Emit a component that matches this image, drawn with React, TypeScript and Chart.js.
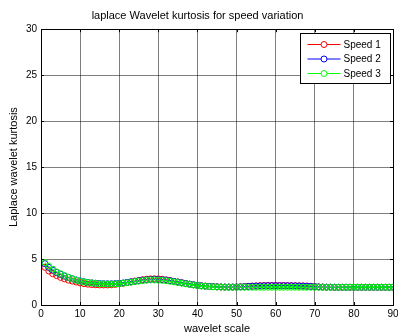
import React, { useEffect, useRef } from "react";
import { Chart, registerables } from "chart.js";

Chart.register(...registerables);

const scales: number[] = [
  1, 2, 3, 4, 5, 6, 7, 8, 9, 10, 11, 12, 13, 14, 15, 16, 17, 18, 19, 20,
  21, 22, 23, 24, 25, 26, 27, 28, 29, 30, 31, 32, 33, 34, 35, 36, 37, 38, 39, 40,
  41, 42, 43, 44, 45, 46, 47, 48, 49, 50, 51, 52, 53, 54, 55, 56, 57, 58, 59, 60,
  61, 62, 63, 64, 65, 66, 67, 68, 69, 70, 71, 72, 73, 74, 75, 76, 77, 78, 79, 80,
  81, 82, 83, 84, 85, 86, 87, 88, 89, 90,
];

const speed1: number[] = [
  4.1, 3.7, 3.4, 3.2, 3.0, 2.85, 2.7, 2.6, 2.5, 2.4,
  2.32, 2.26, 2.22, 2.2, 2.18, 2.18, 2.18, 2.2, 2.24, 2.3,
  2.36, 2.44, 2.52, 2.6, 2.68, 2.75, 2.8, 2.84, 2.85, 2.84,
  2.8, 2.74, 2.66, 2.58, 2.5, 2.42, 2.34, 2.27, 2.2, 2.14,
  2.09, 2.05, 2.02, 2.0, 1.98, 1.96, 1.95, 1.95, 1.95, 1.96,
  1.98, 2.0, 2.03, 2.06, 2.08, 2.1, 2.11, 2.12, 2.12, 2.12,
  2.12, 2.12, 2.11, 2.1, 2.1, 2.09, 2.08, 2.06, 2.04, 2.0,
  1.97, 1.95, 1.94, 1.94, 1.93, 1.93, 1.93, 1.93, 1.93, 1.93,
  1.93, 1.93, 1.93, 1.93, 1.93, 1.93, 1.93, 1.93, 1.93, 1.93,
];

const speed2: number[] = [
  4.5, 4.1, 3.8, 3.55, 3.35, 3.15, 3.0, 2.85, 2.72, 2.62,
  2.53, 2.46, 2.41, 2.37, 2.34, 2.32, 2.31, 2.31, 2.33, 2.36,
  2.4, 2.46, 2.52, 2.58, 2.64, 2.7, 2.74, 2.77, 2.78, 2.77,
  2.74, 2.7, 2.64, 2.57, 2.5, 2.42, 2.34, 2.27, 2.2, 2.14,
  2.09, 2.05, 2.02, 2.0, 1.98, 1.96, 1.95, 1.95, 1.95, 1.96,
  1.97, 1.99, 2.02, 2.04, 2.06, 2.08, 2.09, 2.1, 2.1, 2.1,
  2.1, 2.1, 2.1, 2.09, 2.08, 2.07, 2.06, 2.04, 2.02, 1.99,
  1.96, 1.95, 1.94, 1.94, 1.93, 1.93, 1.93, 1.93, 1.93, 1.93,
  1.93, 1.93, 1.93, 1.93, 1.93, 1.93, 1.93, 1.93, 1.93, 1.93,
];

const speed3: number[] = [
  4.6, 4.2, 3.9, 3.6, 3.4, 3.2, 3.0, 2.85, 2.7, 2.6,
  2.5, 2.45, 2.4, 2.35, 2.3, 2.3, 2.28, 2.28, 2.3, 2.32,
  2.36, 2.42, 2.48, 2.55, 2.6, 2.65, 2.7, 2.72, 2.72, 2.7,
  2.68, 2.64, 2.58, 2.52, 2.45, 2.38, 2.3, 2.24, 2.18, 2.12,
  2.07, 2.03, 2.0, 1.98, 1.96, 1.95, 1.94, 1.94, 1.93, 1.93,
  1.93, 1.93, 1.93, 1.93, 1.93, 1.93, 1.93, 1.93, 1.93, 1.93,
  1.93, 1.93, 1.93, 1.93, 1.93, 1.93, 1.93, 1.93, 1.93, 1.93,
  1.93, 1.93, 1.93, 1.93, 1.93, 1.93, 1.93, 1.93, 1.93, 1.93,
  1.93, 1.93, 1.93, 1.93, 1.93, 1.93, 1.93, 1.93, 1.93, 1.93,
];

const seriesNames = ["Speed 1", "Speed 2", "Speed 3"];
const seriesColors = ["#ff0000", "#0000ff", "#00ff00"];
const xTicks = [0, 10, 20, 30, 40, 50, 60, 70, 80, 90];
const yTicks = [0, 5, 10, 15, 20, 25, 30];

const FONT = "'Liberation Sans', Arial, Helvetica, sans-serif";

const framePlugin = {
  id: "frameLegend",
  afterDraw(chart: any) {
    const ctx = chart.ctx;
    const a = chart.chartArea;
    ctx.save();
    ctx.strokeStyle = "#000";
    ctx.lineWidth = 1;
    ctx.strokeRect(Math.round(a.left) + 0.5, Math.round(a.top) + 0.5, Math.round(a.right - a.left), Math.round(a.bottom - a.top));
    const xs = chart.scales.x;
    const ys = chart.scales.y;
    ctx.beginPath();
    xTicks.forEach((v) => {
      const px = Math.round(xs.getPixelForValue(v)) + 0.5;
      ctx.moveTo(px, a.bottom);
      ctx.lineTo(px, a.bottom - 3);
      ctx.moveTo(px, a.top);
      ctx.lineTo(px, a.top + 3);
    });
    yTicks.forEach((v) => {
      const py = Math.round(ys.getPixelForValue(v)) + 0.5;
      ctx.moveTo(a.left, py);
      ctx.lineTo(a.left + 3, py);
      ctx.moveTo(a.right, py);
      ctx.lineTo(a.right - 3, py);
    });
    ctx.stroke();
    const bx = 300.5, by = 33.5, bw = 90, bh = 50;
    ctx.fillStyle = "#fff";
    ctx.fillRect(bx, by, bw, bh);
    ctx.strokeStyle = "#000";
    ctx.strokeRect(bx, by, bw, bh);
    ctx.font = `10px ${FONT}`;
    ctx.textBaseline = "middle";
    ctx.textAlign = "left";
    seriesNames.forEach((name, i) => {
      const y = by + 11 + i * 14.5;
      ctx.strokeStyle = seriesColors[i];
      ctx.lineWidth = 1;
      ctx.beginPath();
      ctx.moveTo(bx + 7, y);
      ctx.lineTo(bx + 40, y);
      ctx.stroke();
      ctx.beginPath();
      ctx.arc(bx + 23.5, y, 3, 0, Math.PI * 2);
      ctx.fillStyle = "#fff";
      ctx.fill();
      ctx.stroke();
      ctx.fillStyle = "#000";
      ctx.fillText(name, bx + 43, y + 0.5);
    });
    ctx.restore();
  },
};

export default function App() {
  const ref = useRef<HTMLCanvasElement | null>(null);
  useEffect(() => {
    document.body.style.margin = "0";
    const canvas = ref.current;
    if (!canvas) return;
    const data = [speed1, speed2, speed3];
    const chart = new Chart(canvas, {
      type: "line",
      data: {
        datasets: seriesNames.map((name, i) => ({
          label: name,
          data: scales.map((s, j) => ({ x: s, y: data[i][j] })),
          borderColor: seriesColors[i],
          backgroundColor: "rgba(0,0,0,0)",
          borderWidth: 1,
          pointRadius: 3,
          pointBorderWidth: 1,
          pointBorderColor: seriesColors[i],
          pointBackgroundColor: "rgba(0,0,0,0)",
          tension: 0,
          fill: false,
          order: 3 - i,
        })),
      },
      options: {
        animation: false,
        responsive: false,
        devicePixelRatio: 1,
        layout: { padding: { left: 0, right: 3, top: 0, bottom: 0 } },
        plugins: {
          legend: { display: false },
          tooltip: { enabled: false },
          title: {
            display: true,
            text: "laplace Wavelet kurtosis for speed variation",
            color: "#000",
            font: { family: FONT, size: 11, weight: "normal" },
            padding: { top: 9, bottom: 7 },
          },
        },
        scales: {
          x: {
            type: "linear",
            min: 0,
            max: 90,
            afterBuildTicks: (s: any) => {
              s.ticks = xTicks.map((v) => ({ value: v }));
            },
            afterFit: (s: any) => {
              s.height = 31;
              s.paddingLeft = 0;
              s.paddingRight = 0;
            },
            grid: { color: "rgba(0,0,0,0.5)", lineWidth: 1, drawTicks: false },
            border: { display: false },
            ticks: {
              color: "#000",
              font: { family: FONT, size: 10 },
              padding: 3,
              maxRotation: 0,
              autoSkip: false,
            },
            title: {
              display: true,
              text: "wavelet scale",
              color: "#000",
              font: { family: FONT, size: 11 },
              padding: { top: 0, bottom: 0 },
            },
          },
          y: {
            type: "linear",
            min: 0,
            max: 30,
            afterBuildTicks: (s: any) => {
              s.ticks = yTicks.map((v) => ({ value: v }));
            },
            afterFit: (s: any) => {
              s.width = 41;
              s.paddingTop = 0;
              s.paddingBottom = 0;
            },
            grid: { color: "rgba(0,0,0,0.5)", lineWidth: 1, drawTicks: false },
            border: { display: false },
            ticks: {
              color: "#000",
              font: { family: FONT, size: 10 },
              padding: 4,
            },
            title: {
              display: true,
              text: "Laplace wavelet kurtosis",
              color: "#000",
              font: { family: FONT, size: 11 },
              padding: { top: 7, bottom: 0 },
            },
          },
        },
      },
      plugins: [framePlugin],
    });
    return () => chart.destroy();
  }, []);
  return (
    <div style={{ position: "absolute", left: 0, top: 0, width: 398, height: 336, background: "#fff" }}>
      <canvas ref={ref} width={398} height={336} style={{ display: "block" }} />
    </div>
  );
}
